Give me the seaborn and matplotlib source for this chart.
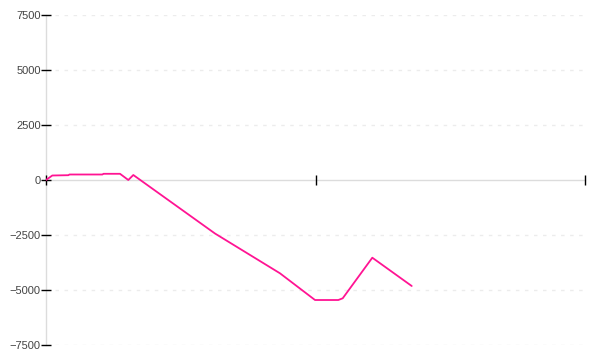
import matplotlib
matplotlib.use("Agg")
import matplotlib.pyplot as plt
import seaborn as sns
import pandas as pd

x_vals = [0, 1.17, 4.14, 4.36, 10.45, 10.67, 13.73, 15.27, 16.2, 31.35, 43.41, 49.91, 54.23, 55.05, 60.54, 67.85]
y_vals = [0, 205, 218, 250, 250, 282, 282, 0, 227, -2432, -4241, -5455, -5455, -5377, -3532, -4818]
y_ticks = [-7500, -5000, -2500, 0, 2500, 5000, 7500]
x_ticks = [0, 50, 100]

sns.set_theme(style="white")
plt.rcParams['font.family'] = ['Liberation Sans', 'DejaVu Sans']

df = pd.DataFrame({"x": x_vals, "y": y_vals})

fig = plt.figure(figsize=(6, 3.6), dpi=100)
ax = fig.add_axes([46/600, 1 - 345/360, (585-46)/600, 330/360])
sns.lineplot(data=df, x="x", y="y", ax=ax, color="#ff1493", linewidth=1.3, zorder=3)

ax.set_xlim(0, 100)
ax.set_ylim(-7500, 7500)
ax.set_yticks(y_ticks)
ax.set_yticklabels([f"{v}".replace("-", "\u2212") for v in y_ticks], fontsize=8, color="#444444")
ax.set_xticks(x_ticks)
ax.set_xticklabels([])
ax.set_xlabel("")
ax.set_ylabel("")

for v in y_ticks:
    if v != 0:
        ax.axhline(v, color="#ececec", linestyle=(0, (2.5, 4)), linewidth=1, zorder=0)

for s in ["top", "right"]:
    ax.spines[s].set_visible(False)
for s in ["left", "bottom"]:
    ax.spines[s].set_color("#dcdcdc")
    ax.spines[s].set_linewidth(1)
    ax.spines[s].set_zorder(0.5)
ax.spines["bottom"].set_position(("data", 0))

ax.tick_params(axis="both", direction="inout", length=6.5, width=1, color="black", pad=0.5)
ax.tick_params(axis="y", left=True)
ax.tick_params(axis="x", bottom=True)

fig.savefig("out.png", dpi=100)
